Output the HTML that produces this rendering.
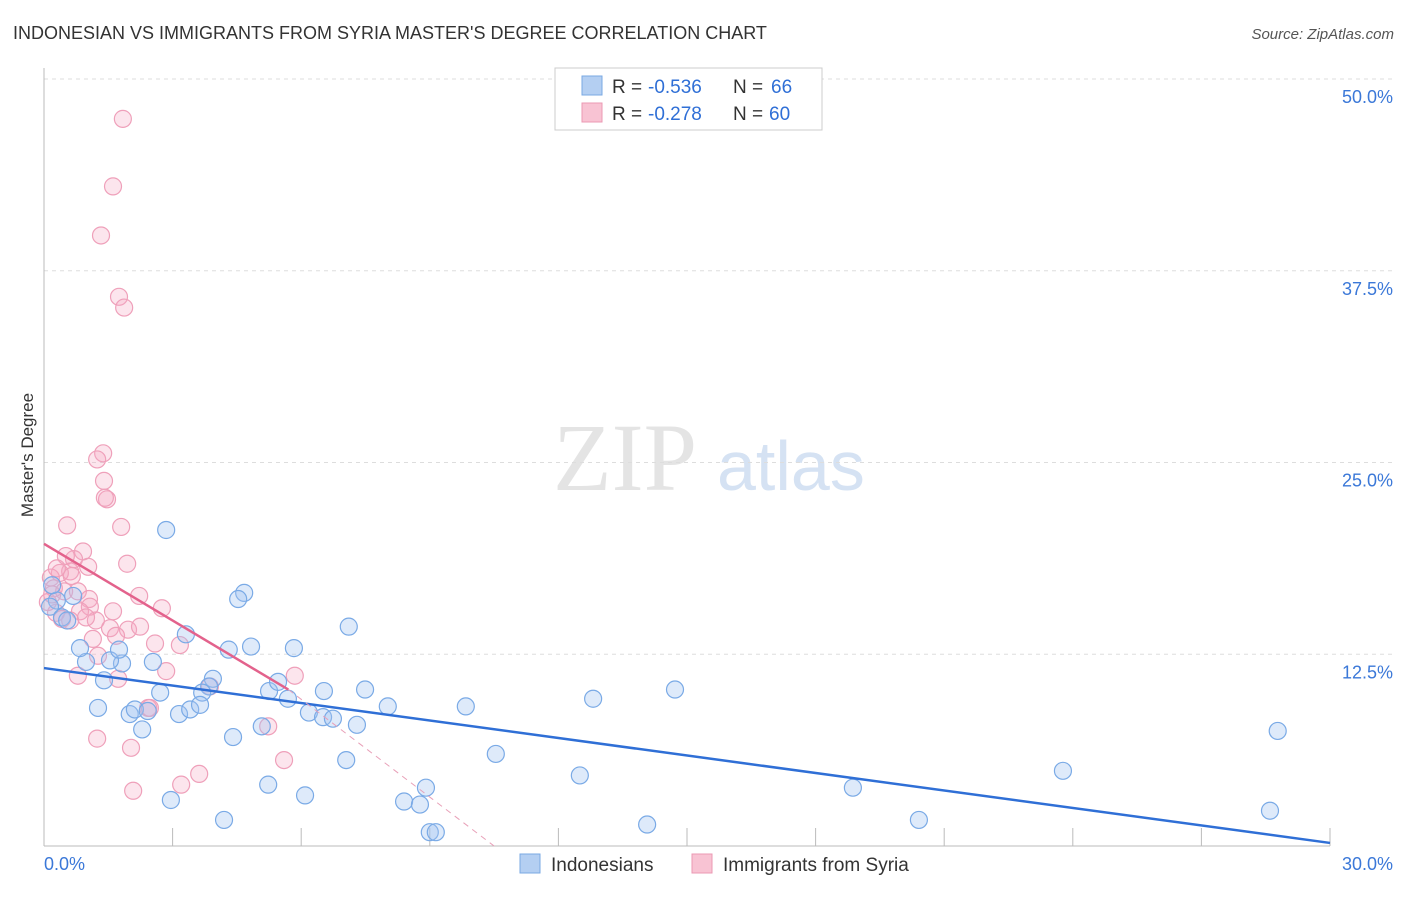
<!DOCTYPE html>
<html><head><meta charset="utf-8"><style>
body{margin:0;background:#fff;font-family:"Liberation Sans",sans-serif}
</style></head><body>
<svg id="chart" width="1406" height="892" xmlns="http://www.w3.org/2000/svg" font-family="Liberation Sans, sans-serif">
<text x="13" y="39" font-size="18" fill="#333">INDONESIAN VS IMMIGRANTS FROM SYRIA MASTER'S DEGREE CORRELATION CHART</text>
<text x="1394" y="39" font-size="15" fill="#555" text-anchor="end" font-style="italic">Source: ZipAtlas.com</text>
<text x="553" y="490" font-size="96" fill="#e4e4e4" font-family="Liberation Serif, serif">ZIP</text>
<text x="717" y="490" font-size="70" fill="#d5e2f3">atlas</text>
<text transform="translate(33,455) rotate(-90)" font-size="17" fill="#333" text-anchor="middle">Master's Degree</text>
<g id="grid"></g><g id="axes"></g><g id="pts"></g><g id="lines"></g>
<g>
<rect x="555" y="68" width="267" height="62" fill="#fff" stroke="#ccc"/>
<rect x="582" y="76" width="20" height="19" fill="#b4cff2" stroke="#7aa8e3"/>
<text x="612" y="93" font-size="19" fill="#333">R =</text>
<text x="648" y="93" font-size="19" fill="#2f6fd6">-0.536</text>
<text x="733" y="93" font-size="19" fill="#333">N =</text>
<text x="771" y="93" font-size="19" fill="#2f6fd6">66</text>
<rect x="582" y="103" width="20" height="19" fill="#f8c3d3" stroke="#eb98b3"/>
<text x="612" y="120" font-size="19" fill="#333">R =</text>
<text x="648" y="120" font-size="19" fill="#2f6fd6">-0.278</text>
<text x="733" y="120" font-size="19" fill="#333">N =</text>
<text x="769" y="120" font-size="19" fill="#2f6fd6">60</text>
</g>
<g>
<rect x="520" y="854" width="20" height="19" fill="#b4cff2" stroke="#7aa8e3"/>
<text x="551" y="871" font-size="19" fill="#333">Indonesians</text>
<rect x="692" y="854" width="20" height="19" fill="#f8c3d3" stroke="#eb98b3"/>
<text x="723" y="871" font-size="19" fill="#333">Immigrants from Syria</text>
</g>
</svg>
<script>
const yTicks=[12.5,25,37.5,50];
const yTickLabels=["12.5%","25.0%","37.5%","50.0%"];
const xTicks=[3,6,9,12,15,18,21,24,27,30];
const blueX=[2.85,4.67,4.53,3.31,4.31,4.83,5.83,7.11,2.54,1.82,1.54,0.98,0.84,1.75,1.4,3.94,3.85,2.71,3.69,5.25,5.46,5.69,6.53,7.49,8.02,9.84,12.81,14.72,1.26,2.0,2.12,2.42,3.15,3.41,3.64,6.18,6.51,6.74,7.3,5.08,2.29,4.41,7.05,10.54,12.5,18.87,23.77,28.78,28.6,20.41,14.07,5.23,6.09,8.4,8.77,8.91,9.0,9.14,4.2,2.96,0.3,0.14,0.42,0.54,0.68,0.19];
const blueY=[20.6,16.5,16.1,13.8,12.8,13.0,12.9,14.3,12.0,11.9,12.1,12.0,12.9,12.8,10.8,10.9,10.4,10.0,10.0,10.1,10.7,9.6,10.1,10.2,9.1,9.1,9.6,10.2,9.0,8.6,8.9,8.8,8.6,8.9,9.2,8.7,8.4,8.3,7.9,7.8,7.6,7.1,5.6,6.0,4.6,3.8,4.9,7.5,2.3,1.7,1.4,4.0,3.3,2.9,2.7,3.8,0.9,0.9,1.7,3.0,16.0,15.6,14.9,14.7,16.3,17.0];
const pinkX=[1.84,1.61,1.33,1.75,1.87,1.38,1.24,1.4,1.47,1.42,1.8,0.54,1.94,0.91,0.7,1.03,0.61,0.37,0.16,0.23,0.47,0.79,1.05,2.22,2.75,1.61,1.07,0.84,0.28,0.61,1.21,1.54,1.96,2.24,1.68,2.59,3.17,1.14,1.26,2.85,5.85,0.79,1.73,3.87,2.43,5.23,1.24,2.03,5.6,3.62,3.2,2.08,0.42,0.09,0.19,0.65,0.98,0.3,0.51,2.47];
const pinkY=[47.4,43.0,39.8,35.8,35.1,25.6,25.2,23.8,22.6,22.7,20.8,20.9,18.4,19.2,18.7,18.2,17.9,17.8,17.5,16.8,16.6,16.6,16.1,16.3,15.5,15.3,15.6,15.3,15.2,14.7,14.7,14.2,14.1,14.3,13.7,13.2,13.1,13.5,12.4,11.4,11.1,11.1,10.9,10.4,9.0,7.8,7.0,6.4,5.6,4.7,4.0,3.6,14.8,15.9,16.4,17.6,14.9,18.1,18.9,9.0];
const blueLine=[[0,11.6],[30,0.2]];
const pinkSolid=[[0,19.7],[5.7,10.2]];
const pinkDash=[[5.7,10.2],[10.5,0]];
const NS="http://www.w3.org/2000/svg";
const X=v=>44+v*(1330-44)/30, Y=v=>846-v*(846-79)/50;
function mk(t,a,p){const e=document.createElementNS(NS,t);for(const k in a)e.setAttribute(k,a[k]);document.getElementById(p).appendChild(e);return e;}
yTicks.forEach((t,i)=>{
 const l=mk('line',{x1:44,x2:1394,y1:Y(t),y2:Y(t),stroke:'#ddd','stroke-dasharray':'4,4'},'grid');
 
 
 const tx=mk('text',{x:1393,y:Y(t)+24,'font-size':18,fill:'#3b78d8','text-anchor':'end'},'axes');
 tx.textContent=yTickLabels[i];
 
 
});
const ax=mk('line',{x1:44,x2:44,y1:68,y2:846,stroke:'#bbb'},'axes');


const bx=mk('line',{x1:44,x2:1330,y1:846,y2:846,stroke:'#bbb'},'axes');


xTicks.forEach(t=>{const l=mk('line',{x1:X(t),x2:X(t),y1:828,y2:846,stroke:'#bbb'},'axes');
 
 });
const x0=mk('text',{x:44,y:870,'font-size':18,fill:'#3b78d8'},'axes');x0.textContent='0.0%';


const x1=mk('text',{x:1393,y:870,'font-size':18,fill:'#3b78d8','text-anchor':'end'},'axes');x1.textContent='30.0%';


pinkX.forEach((v,i)=>{const c=mk('circle',{cx:X(v),cy:Y(pinkY[i]),r:8.5,fill:'rgba(244,170,195,0.3)',stroke:'#efa0ba','stroke-width':1.2},'pts');
 
 });
blueX.forEach((v,i)=>{const c=mk('circle',{cx:X(v),cy:Y(blueY[i]),r:8.5,fill:'rgba(160,195,240,0.35)',stroke:'#7aaae6','stroke-width':1.2},'pts');
 
 });
const bl=mk('line',{x1:X(blueLine[0][0]),y1:Y(blueLine[0][1]),x2:X(blueLine[1][0]),y2:Y(blueLine[1][1]),stroke:'#2f6fd6','stroke-width':2.5},'lines');


const pl=mk('line',{x1:X(pinkSolid[0][0]),y1:Y(pinkSolid[0][1]),x2:X(pinkSolid[1][0]),y2:Y(pinkSolid[1][1]),stroke:'#e3628c','stroke-width':2.5},'lines');


const pd=mk('line',{x1:X(pinkDash[0][0]),y1:Y(pinkDash[0][1]),x2:X(pinkDash[1][0]),y2:Y(pinkDash[1][1]),stroke:'#e8a0b8','stroke-width':1,'stroke-dasharray':'6,5'},'lines');


</script>
</body></html>
